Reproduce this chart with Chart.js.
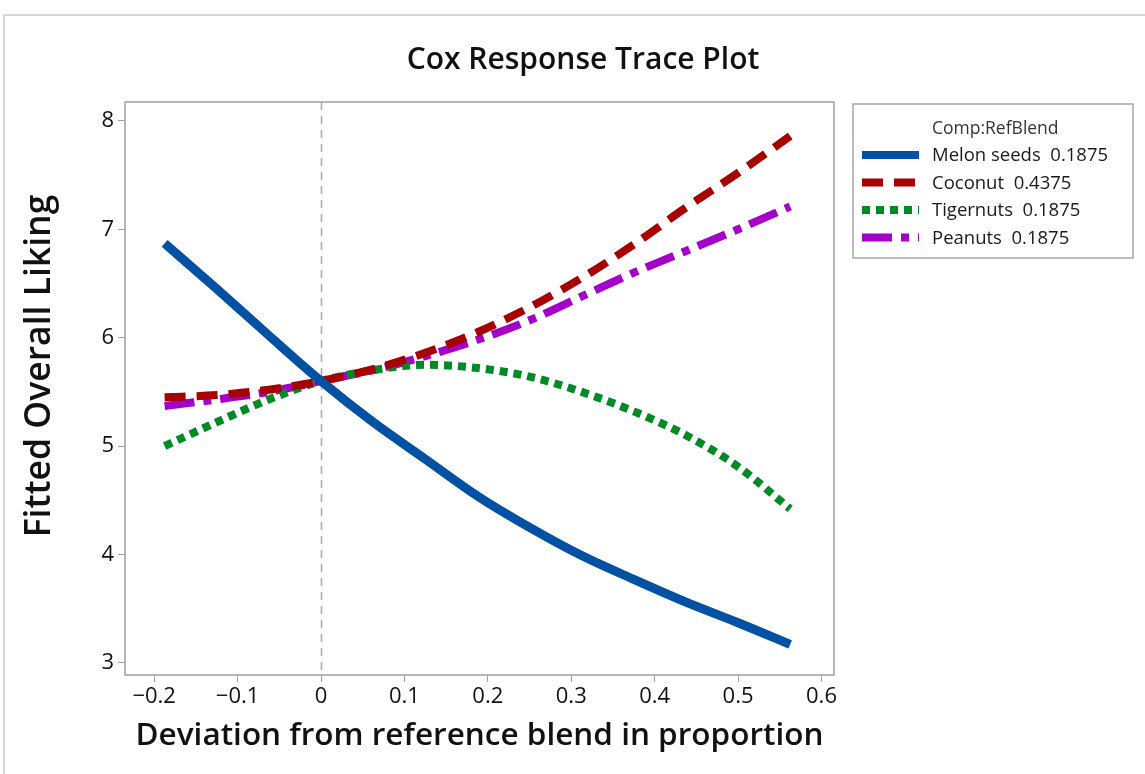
<!DOCTYPE html>
<html>
<head>
<meta charset="utf-8">
<script src="https://cdn.jsdelivr.net/npm/chart.js@4.4.0/dist/chart.umd.min.js"></script>
<style>
html, body { margin: 0; padding: 0; background: #fff; }
#wrap { position: relative; width: 1145px; height: 774px; }
</style>
</head>
<body>
<div id="wrap"><canvas id="traceChart" width="1145" height="774"></canvas></div>
<script>
// deviation from reference blend (x) and fitted liking per component
const deviation = [-0.1875, -0.125, -0.0625, 0, 0.0625, 0.125, 0.1875, 0.25, 0.3125, 0.375, 0.4375, 0.5, 0.5625];
const melonSeeds = [6.87, 6.45, 6.02, 5.6, 5.22, 4.88, 4.54, 4.25, 3.99, 3.77, 3.56, 3.37, 3.17];
const coconut    = [5.45, 5.47, 5.52, 5.6, 5.71, 5.86, 6.05, 6.28, 6.55, 6.86, 7.2, 7.52, 7.86];
const tigernuts  = [5.0, 5.22, 5.43, 5.6, 5.7, 5.75, 5.72, 5.64, 5.5, 5.32, 5.1, 4.81, 4.42];
const peanuts    = [5.37, 5.43, 5.5, 5.6, 5.7, 5.83, 5.98, 6.16, 6.38, 6.6, 6.8, 7.0, 7.21];

const componentNames = ['Melon seeds', 'Coconut', 'Tigernuts', 'Peanuts'];
const refBlend = ['0.1875', '0.4375', '0.1875', '0.1875'];
const legendTitle = 'Comp:RefBlend';
const chartTitle = 'Cox Response Trace Plot';
const yTitle = 'Fitted Overall Liking';

const xTicks = [-0.2, -0.1, 0, 0.1, 0.2, 0.3, 0.4, 0.5, 0.6];
const yTicks = [3, 4, 5, 6, 7, 8];

const FONT = '"Open Sans", "Noto Sans", sans-serif';
const toPts = ys => deviation.map((x, i) => ({ x: x, y: ys[i] }));

const styles = [
  { color: '#0050a4', dash: [], width: 9 },
  { color: '#a80000', dash: [21, 11], width: 8 },
  { color: '#008a26', dash: [8, 6], width: 8 },
  { color: '#a400c8', dash: [30, 9, 8, 9], width: 8 }
];
const seriesData = [melonSeeds, coconut, tigernuts, peanuts];

// outer frame, titles, plot box and reference line at x = 0
const frame = {
  id: 'frame',
  beforeDraw(chart) {
    const ctx = chart.ctx;
    ctx.save();
    ctx.fillStyle = '#fff';
    ctx.fillRect(0, 0, chart.width, chart.height);
    ctx.strokeStyle = '#d4d4d4';
    ctx.lineWidth = 2;
    ctx.beginPath();
    ctx.moveTo(4, chart.height);
    ctx.lineTo(4, 15);
    ctx.lineTo(chart.width, 15);
    ctx.stroke();
    ctx.fillStyle = '#111';
    ctx.textAlign = 'center';
    ctx.textBaseline = 'middle';
    ctx.font = '600 30px ' + FONT;
    ctx.fillText(chartTitle, 583, 60);
    // y axis title
    ctx.translate(40, 366);
    ctx.rotate(-Math.PI / 2);
    ctx.font = '600 35.5px ' + FONT;
    ctx.fillText(yTitle, 0, 0);
    ctx.restore();
  },
  beforeDatasetsDraw(chart) {
    const ctx = chart.ctx, a = chart.chartArea;
    const x0 = Math.round(chart.scales.x.getPixelForValue(0)) + 0.5;
    ctx.save();
    ctx.strokeStyle = '#a8a8a8';
    ctx.lineWidth = 1.5;
    ctx.setLineDash([8, 6]);
    ctx.beginPath();
    ctx.moveTo(x0, a.top);
    ctx.lineTo(x0, a.bottom);
    ctx.stroke();
    ctx.restore();
  },
  afterDraw(chart) {
    const ctx = chart.ctx, a = chart.chartArea;
    ctx.save();
    ctx.strokeStyle = '#a0a0a0';
    ctx.lineWidth = 1.5;
    ctx.strokeRect(a.left, a.top, a.right - a.left, a.bottom - a.top);
    ctx.restore();
  }
};

const legendBox = {
  id: 'legendBox',
  afterDraw(chart) {
    const ctx = chart.ctx;
    const x0 = 853, y0 = 104, w = 280, h = 154;
    ctx.save();
    ctx.strokeStyle = '#a8a8a8';
    ctx.lineWidth = 1.5;
    ctx.strokeRect(x0, y0, w, h);
    ctx.textBaseline = 'middle';
    ctx.fillStyle = '#333';
    ctx.font = '17.5px ' + FONT;
    ctx.fillText(legendTitle, x0 + 79, y0 + 25);
    chart.data.datasets.forEach((ds, i) => {
      const y = y0 + 51 + i * 27.5;
      ctx.strokeStyle = ds.borderColor;
      ctx.lineWidth = 8;
      ctx.setLineDash(ds.borderDash);
      ctx.beginPath();
      ctx.moveTo(x0 + 9, y);
      ctx.lineTo(x0 + 66, y);
      ctx.stroke();
      ctx.setLineDash([]);
      ctx.fillStyle = '#1a1a1a';
      ctx.font = '18.5px ' + FONT;
      ctx.fillText(ds.label, x0 + 79, y + 1);
    });
    ctx.restore();
  }
};

const fmtX = v => v === 0 ? '0' : (v < 0 ? '\u2212' + Math.abs(v).toFixed(1) : v.toFixed(1));

new Chart(document.getElementById('traceChart'), {
  type: 'line',
  data: {
    datasets: seriesData.map((ys, i) => ({
      label: componentNames[i] + '  ' + refBlend[i],
      data: toPts(ys),
      borderColor: styles[i].color,
      borderWidth: styles[i].width,
      borderDash: styles[i].dash,
      borderCapStyle: 'butt',
      pointRadius: 0,
      cubicInterpolationMode: 'monotone',
      fill: false
    }))
  },
  options: {
    responsive: false,
    animation: false,
    layout: { padding: { left: 0, right: 311, top: 102, bottom: 0 } },
    plugins: {
      legend: { display: false },
      tooltip: { enabled: false },
      title: { display: false }
    },
    scales: {
      x: {
        type: 'linear',
        min: -0.235,
        max: 0.615,
        afterBuildTicks: s => { s.ticks = xTicks.map(v => ({ value: v })); },
        afterFit: s => { s.height = 99; },
        border: { display: false },
        grid: { drawOnChartArea: false, drawTicks: true, tickLength: 7, color: '#a0a0a0' },
        ticks: {
          color: '#111',
          font: { family: FONT, size: 22 },
          padding: 2,
          maxRotation: 0,
          callback: v => fmtX(v)
        },
        title: {
          display: true,
          text: 'Deviation from reference blend in proportion',
          color: '#111',
          font: { family: FONT, size: 31.5, weight: '600' },
          padding: { top: 0, bottom: 19 }
        }
      },
      y: {
        min: 2.888,
        max: 8.174,
        afterBuildTicks: s => { s.ticks = yTicks.map(v => ({ value: v })); },
        afterFit: s => { s.width = 125; },
        border: { display: false },
        grid: { drawOnChartArea: false, drawTicks: true, tickLength: 7, color: '#a0a0a0' },
        ticks: {
          color: '#111',
          font: { family: FONT, size: 22 },
          padding: 4,
          callback: v => String(v)
        },
        title: { display: false }
      }
    }
  },
  plugins: [frame, legendBox]
});
</script>
</body>
</html>
